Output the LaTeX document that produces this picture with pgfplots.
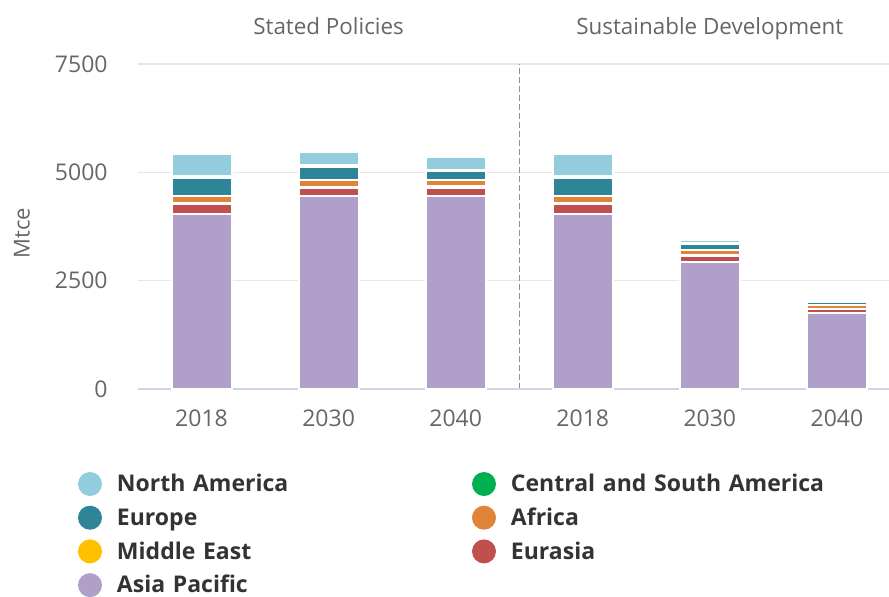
\documentclass[border=0pt]{standalone}
\usepackage{fontspec}
\setmainfont{Open Sans}
\usepackage{pgfplots}
\usepackage{pgfplotstable}
\pgfplotsset{compat=1.18}

\definecolor{cNA}{HTML}{93CDDD}
\definecolor{cCSA}{HTML}{00B050}
\definecolor{cEU}{HTML}{2E8598}
\definecolor{cAF}{HTML}{E0843A}
\definecolor{cME}{HTML}{FFC000}
\definecolor{cEA}{HTML}{C0504D}
\definecolor{cAP}{HTML}{B09FC9}
\definecolor{tickc}{HTML}{666666}
\definecolor{legc}{HTML}{333333}
\definecolor{gridc}{HTML}{E6E6E6}
\definecolor{axisc}{HTML}{CCD6EB}
\definecolor{dashc}{HTML}{909090}

% Mtce by region; x: 0-2 Stated Policies, 3-5 Sustainable Development
\pgfplotstableread{
x   AP   EA  ME  AF  EU  CSA NA
0 4040 230 30 165 415 45 500
1 4455 175 30 165 290 45 310
2 4455 175 45 145 200 45 300
3 4040 230 30 165 415 45 500
4 2930 135 35 105 130 35 80
5 1745  90 15  80  80 10 10
}\coal

\pgfplotsset{
  mybar/.style={fill=#1, draw=white, line width=1pt,
    legend image code/.code={\fill[fill=#1, draw=none] (6pt,3.9pt) circle[radius=6pt];}},
}

\begin{document}
\begin{tikzpicture}
\useasboundingbox (-69pt,-103.5pt) rectangle (375.5pt,194.5pt);
\begin{axis}[
  at={(0,0)}, anchor=south west,
  scale only axis, width=375.5pt, height=162.5pt,
  ybar stacked, bar width=30pt,
  xmin=-0.5, xmax=5.41, ymin=0, ymax=7500,
  clip=false,
  axis x line*=bottom, axis y line*=left,
  y axis line style={draw=none},
  x axis line style={axisc, line width=0.6pt},
  ymajorgrids, grid style={gridc, line width=0.6pt},
  major tick length=0pt,
  ytick={0,2500,5000,7500},
  xtick={0,...,5},
  xticklabels={2018,2030,2040,2018,2030,2040},
  scaled ticks=false,
  /pgf/number format/1000 sep={},
  /pgf/number format/assume math mode=true,
  tick label style={font=\fontsize{11.5}{13}\selectfont, text=tickc, inner sep=0pt},
  yticklabel style={anchor=east, xshift=-15pt},
  xticklabel style={anchor=base, yshift=-18.5pt},
  ylabel={Mtce},
  ylabel style={at={(axis description cs:-0.1545,0.48)}, anchor=center,
    font=\fontsize{11}{13}\selectfont, text=tickc},
  legend columns=2, reverse legend,
  legend cell align=left,
  legend style={draw=none, fill=none, inner sep=0pt, outer sep=0pt,
    at={(axis description cs:0,0)}, anchor=north west,
    xshift=-30pt, yshift=-41.5pt, row sep=4.45pt,
    nodes={text width=170pt, text height=8.5pt, text depth=2.5pt,
      inner sep=0pt, anchor=base west,
      font=\fontsize{11.5}{13}\selectfont\bfseries, text=legc},
    /tikz/every odd column/.append style={column sep=7.5pt},
    /tikz/every even column/.append style={column sep=7.5pt}},
]
\addplot[mybar=cAP] table[x=x, y=AP] {\coal};
\addplot[mybar=cEA] table[x=x, y=EA] {\coal};
\addplot[mybar=cME] table[x=x, y=ME] {\coal};
\addplot[mybar=cAF] table[x=x, y=AF] {\coal};
\addplot[mybar=cEU] table[x=x, y=EU] {\coal};
\addplot[mybar=cCSA] table[x=x, y=CSA] {\coal};
\addplot[mybar=cNA] table[x=x, y=NA] {\coal};
\legend{Asia Pacific, Eurasia, Middle East, Africa, Europe, Central and South America, North America}

\draw[axisc, line width=0.8pt] (axis cs:-0.5,0) -- (axis cs:5.41,0);
\draw[dashc, line width=0.6pt, dash pattern=on 3pt off 1.5pt]
  (axis cs:2.5,0) -- (axis cs:2.5,7500);
\node[anchor=base, font=\fontsize{11.2}{13}\selectfont, text=tickc]
  at ([yshift=15pt]axis cs:1,7500) {Stated Policies};
\node[anchor=base, font=\fontsize{11.2}{13}\selectfont, text=tickc]
  at ([yshift=15pt]axis cs:4,7500) {Sustainable Development};
\end{axis}
\end{tikzpicture}
\end{document}
